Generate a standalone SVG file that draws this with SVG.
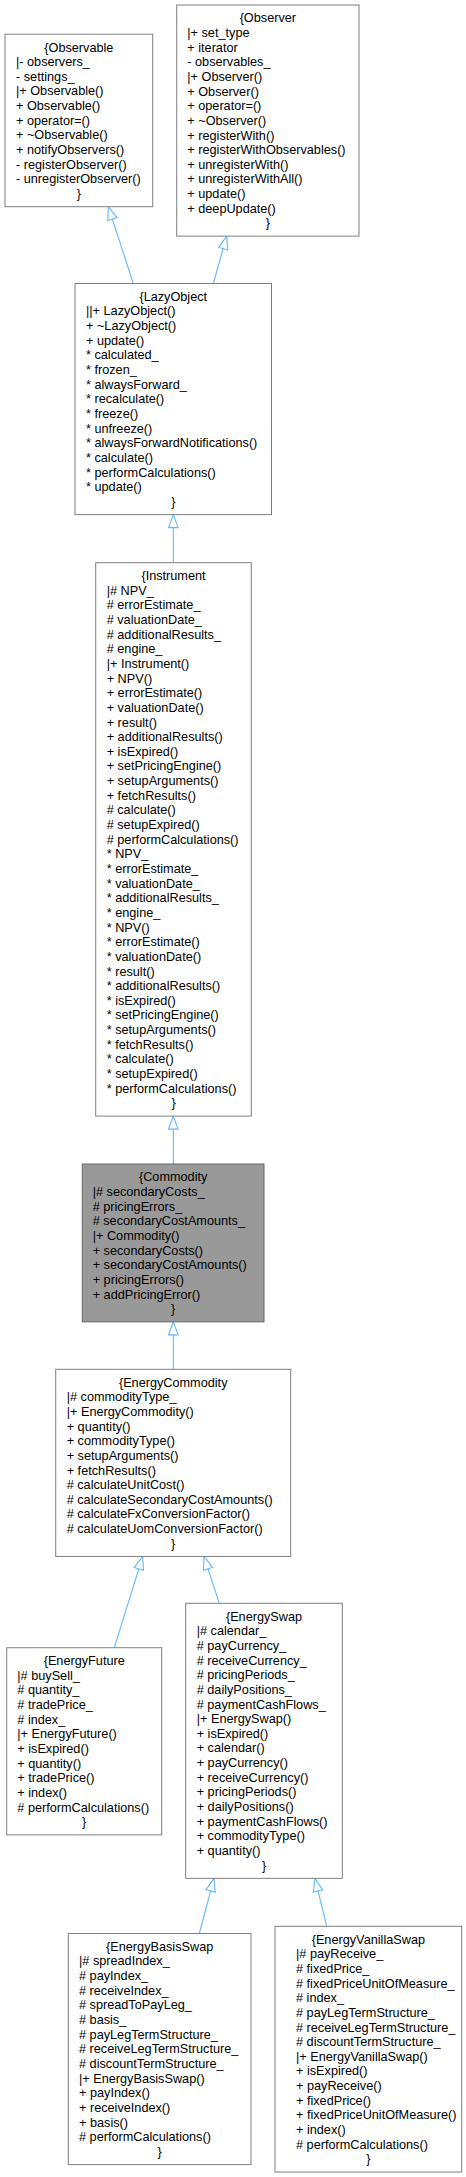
<svg xmlns="http://www.w3.org/2000/svg" width="466" height="2177" viewBox="0 0 466 2177">
<style>
.bg{fill:#fff}
.box{fill:#fff;stroke:#7f7f7f;stroke-width:1}
.cur{fill:#999999;stroke:#666666;stroke-width:1}
text{font-family:"Liberation Sans",Arial,sans-serif;font-size:12.7px;fill:#000}
.t{text-anchor:middle}
.e{fill:none;stroke:#63b8ff;stroke-width:1.1;marker-end:url(#ah)}
</style>
<defs>
<marker id="ah" markerUnits="userSpaceOnUse" markerWidth="16" markerHeight="12" viewBox="0 0 16 12" refX="14" refY="6" orient="auto">
<path d="M1,1.2 L14,6 L1,10.8 z" fill="#fff" stroke="#63b8ff" stroke-width="1.1"/>
</marker>
</defs>
<rect class="bg" x="0" y="0" width="466" height="2177"/>

<g id="connectors">
<path class="e" d="M133.3,283.5 L108.3,206.7"/>
<path class="e" d="M213.3,283.5 L226.7,236.1"/>
<path class="e" d="M173.3,562.7 L173.3,514.6"/>
<path class="e" d="M173.3,1164 L173.3,1116.1"/>
<path class="e" d="M173.3,1369.3 L173.3,1321.85"/>
<path class="e" d="M114.3,1647.7 L142.7,1556.45"/>
<path class="e" d="M219.3,1603.3 L204,1556.45"/>
<path class="e" d="M199.3,1933.5 L214,1878.35"/>
<path class="e" d="M326.7,1926.3 L315,1878.35"/>
</g>

<g id="Observable">
<rect class="box" x="5" y="34.2" width="147.7" height="172.5"/>
<text class="t" x="78.85" y="51.5">{Observable</text>
<text x="16" y="51.5"><tspan x="16" dy="14.65">|- observers_</tspan><tspan x="16" dy="14.65">- settings_</tspan><tspan x="16" dy="14.65">|+ Observable()</tspan><tspan x="16" dy="14.65">+ Observable()</tspan><tspan x="16" dy="14.65">+ operator=()</tspan><tspan x="16" dy="14.65">+ ~Observable()</tspan><tspan x="16" dy="14.65">+ notifyObservers()</tspan><tspan x="16" dy="14.65">- registerObserver()</tspan><tspan x="16" dy="14.65">- unregisterObserver()</tspan></text>
<text class="t" x="78.85" y="198">}</text>
</g>

<g id="Observer">
<rect class="box" x="176.7" y="5" width="182.3" height="231.1"/>
<text class="t" x="267.85" y="22.3">{Observer</text>
<text x="187.3" y="22.3"><tspan x="187.3" dy="14.65">|+ set_type</tspan><tspan x="187.3" dy="14.65">+ iterator</tspan><tspan x="187.3" dy="14.65">- observables_</tspan><tspan x="187.3" dy="14.65">|+ Observer()</tspan><tspan x="187.3" dy="14.65">+ Observer()</tspan><tspan x="187.3" dy="14.65">+ operator=()</tspan><tspan x="187.3" dy="14.65">+ ~Observer()</tspan><tspan x="187.3" dy="14.65">+ registerWith()</tspan><tspan x="187.3" dy="14.65">+ registerWithObservables()</tspan><tspan x="187.3" dy="14.65">+ unregisterWith()</tspan><tspan x="187.3" dy="14.65">+ unregisterWithAll()</tspan><tspan x="187.3" dy="14.65">+ update()</tspan><tspan x="187.3" dy="14.65">+ deepUpdate()</tspan></text>
<text class="t" x="267.85" y="227.4">}</text>
</g>

<g id="LazyObject">
<rect class="box" x="75" y="283.5" width="196.5" height="231.1"/>
<text class="t" x="173.25" y="300.8">{LazyObject</text>
<text x="86" y="300.8"><tspan x="86" dy="14.65">||+ LazyObject()</tspan><tspan x="86" dy="14.65">+ ~LazyObject()</tspan><tspan x="86" dy="14.65">+ update()</tspan><tspan x="86" dy="14.65">* calculated_</tspan><tspan x="86" dy="14.65">* frozen_</tspan><tspan x="86" dy="14.65">* alwaysForward_</tspan><tspan x="86" dy="14.65">* recalculate()</tspan><tspan x="86" dy="14.65">* freeze()</tspan><tspan x="86" dy="14.65">* unfreeze()</tspan><tspan x="86" dy="14.65">* alwaysForwardNotifications()</tspan><tspan x="86" dy="14.65">* calculate()</tspan><tspan x="86" dy="14.65">* performCalculations()</tspan><tspan x="86" dy="14.65">* update()</tspan></text>
<text class="t" x="173.25" y="505.9">}</text>
</g>

<g id="Instrument">
<rect class="box" x="95.7" y="562.7" width="155.6" height="553.4"/>
<text class="t" x="173.5" y="580">{Instrument</text>
<text x="106.7" y="580"><tspan x="106.7" dy="14.65">|# NPV_</tspan><tspan x="106.7" dy="14.65"># errorEstimate_</tspan><tspan x="106.7" dy="14.65"># valuationDate_</tspan><tspan x="106.7" dy="14.65"># additionalResults_</tspan><tspan x="106.7" dy="14.65"># engine_</tspan><tspan x="106.7" dy="14.65">|+ Instrument()</tspan><tspan x="106.7" dy="14.65">+ NPV()</tspan><tspan x="106.7" dy="14.65">+ errorEstimate()</tspan><tspan x="106.7" dy="14.65">+ valuationDate()</tspan><tspan x="106.7" dy="14.65">+ result()</tspan><tspan x="106.7" dy="14.65">+ additionalResults()</tspan><tspan x="106.7" dy="14.65">+ isExpired()</tspan><tspan x="106.7" dy="14.65">+ setPricingEngine()</tspan><tspan x="106.7" dy="14.65">+ setupArguments()</tspan><tspan x="106.7" dy="14.65">+ fetchResults()</tspan><tspan x="106.7" dy="14.65"># calculate()</tspan><tspan x="106.7" dy="14.65"># setupExpired()</tspan><tspan x="106.7" dy="14.65"># performCalculations()</tspan><tspan x="106.7" dy="14.65">* NPV_</tspan><tspan x="106.7" dy="14.65">* errorEstimate_</tspan><tspan x="106.7" dy="14.65">* valuationDate_</tspan><tspan x="106.7" dy="14.65">* additionalResults_</tspan><tspan x="106.7" dy="14.65">* engine_</tspan><tspan x="106.7" dy="14.65">* NPV()</tspan><tspan x="106.7" dy="14.65">* errorEstimate()</tspan><tspan x="106.7" dy="14.65">* valuationDate()</tspan><tspan x="106.7" dy="14.65">* result()</tspan><tspan x="106.7" dy="14.65">* additionalResults()</tspan><tspan x="106.7" dy="14.65">* isExpired()</tspan><tspan x="106.7" dy="14.65">* setPricingEngine()</tspan><tspan x="106.7" dy="14.65">* setupArguments()</tspan><tspan x="106.7" dy="14.65">* fetchResults()</tspan><tspan x="106.7" dy="14.65">* calculate()</tspan><tspan x="106.7" dy="14.65">* setupExpired()</tspan><tspan x="106.7" dy="14.65">* performCalculations()</tspan></text>
<text class="t" x="173.5" y="1107.4">}</text>
</g>

<g id="Commodity">
<rect class="cur" x="82.3" y="1164" width="181.7" height="157.85"/>
<text class="t" x="173.15" y="1181.3">{Commodity</text>
<text x="92.7" y="1181.3"><tspan x="92.7" dy="14.65">|# secondaryCosts_</tspan><tspan x="92.7" dy="14.65"># pricingErrors_</tspan><tspan x="92.7" dy="14.65"># secondaryCostAmounts_</tspan><tspan x="92.7" dy="14.65">|+ Commodity()</tspan><tspan x="92.7" dy="14.65">+ secondaryCosts()</tspan><tspan x="92.7" dy="14.65">+ secondaryCostAmounts()</tspan><tspan x="92.7" dy="14.65">+ pricingErrors()</tspan><tspan x="92.7" dy="14.65">+ addPricingError()</tspan></text>
<text class="t" x="173.15" y="1313.2">}</text>
</g>

<g id="EnergyCommodity">
<rect class="box" x="55.7" y="1369.3" width="235" height="187.15"/>
<text class="t" x="173.2" y="1386.6">{EnergyCommodity</text>
<text x="66.7" y="1386.6"><tspan x="66.7" dy="14.65">|# commodityType_</tspan><tspan x="66.7" dy="14.65">|+ EnergyCommodity()</tspan><tspan x="66.7" dy="14.65">+ quantity()</tspan><tspan x="66.7" dy="14.65">+ commodityType()</tspan><tspan x="66.7" dy="14.65">+ setupArguments()</tspan><tspan x="66.7" dy="14.65">+ fetchResults()</tspan><tspan x="66.7" dy="14.65"># calculateUnitCost()</tspan><tspan x="66.7" dy="14.65"># calculateSecondaryCostAmounts()</tspan><tspan x="66.7" dy="14.65"># calculateFxConversionFactor()</tspan><tspan x="66.7" dy="14.65"># calculateUomConversionFactor()</tspan></text>
<text class="t" x="173.2" y="1547.8">}</text>
</g>

<g id="EnergyFuture">
<rect class="box" x="6.7" y="1647.7" width="155" height="187.15"/>
<text class="t" x="84.2" y="1665">{EnergyFuture</text>
<text x="17.3" y="1665"><tspan x="17.3" dy="14.65">|# buySell_</tspan><tspan x="17.3" dy="14.65"># quantity_</tspan><tspan x="17.3" dy="14.65"># tradePrice_</tspan><tspan x="17.3" dy="14.65"># index_</tspan><tspan x="17.3" dy="14.65">|+ EnergyFuture()</tspan><tspan x="17.3" dy="14.65">+ isExpired()</tspan><tspan x="17.3" dy="14.65">+ quantity()</tspan><tspan x="17.3" dy="14.65">+ tradePrice()</tspan><tspan x="17.3" dy="14.65">+ index()</tspan><tspan x="17.3" dy="14.65"># performCalculations()</tspan></text>
<text class="t" x="84.2" y="1826.2">}</text>
</g>

<g id="EnergySwap">
<rect class="box" x="185.7" y="1603.3" width="156.6" height="275.05"/>
<text class="t" x="264" y="1620.6">{EnergySwap</text>
<text x="196.7" y="1620.6"><tspan x="196.7" dy="14.65">|# calendar_</tspan><tspan x="196.7" dy="14.65"># payCurrency_</tspan><tspan x="196.7" dy="14.65"># receiveCurrency_</tspan><tspan x="196.7" dy="14.65"># pricingPeriods_</tspan><tspan x="196.7" dy="14.65"># dailyPositions_</tspan><tspan x="196.7" dy="14.65"># paymentCashFlows_</tspan><tspan x="196.7" dy="14.65">|+ EnergySwap()</tspan><tspan x="196.7" dy="14.65">+ isExpired()</tspan><tspan x="196.7" dy="14.65">+ calendar()</tspan><tspan x="196.7" dy="14.65">+ payCurrency()</tspan><tspan x="196.7" dy="14.65">+ receiveCurrency()</tspan><tspan x="196.7" dy="14.65">+ pricingPeriods()</tspan><tspan x="196.7" dy="14.65">+ dailyPositions()</tspan><tspan x="196.7" dy="14.65">+ paymentCashFlows()</tspan><tspan x="196.7" dy="14.65">+ commodityType()</tspan><tspan x="196.7" dy="14.65">+ quantity()</tspan></text>
<text class="t" x="264" y="1869.65">}</text>
</g>

<g id="EnergyBasisSwap">
<rect class="box" x="68.3" y="1933.5" width="182.7" height="231.1"/>
<text class="t" x="159.65" y="1950.8">{EnergyBasisSwap</text>
<text x="79" y="1950.8"><tspan x="79" dy="14.65">|# spreadIndex_</tspan><tspan x="79" dy="14.65"># payIndex_</tspan><tspan x="79" dy="14.65"># receiveIndex_</tspan><tspan x="79" dy="14.65"># spreadToPayLeg_</tspan><tspan x="79" dy="14.65"># basis_</tspan><tspan x="79" dy="14.65"># payLegTermStructure_</tspan><tspan x="79" dy="14.65"># receiveLegTermStructure_</tspan><tspan x="79" dy="14.65"># discountTermStructure_</tspan><tspan x="79" dy="14.65">|+ EnergyBasisSwap()</tspan><tspan x="79" dy="14.65">+ payIndex()</tspan><tspan x="79" dy="14.65">+ receiveIndex()</tspan><tspan x="79" dy="14.65">+ basis()</tspan><tspan x="79" dy="14.65"># performCalculations()</tspan></text>
<text class="t" x="159.65" y="2155.9">}</text>
</g>

<g id="EnergyVanillaSwap">
<rect class="box" x="275" y="1926.3" width="186.7" height="245.75"/>
<text class="t" x="368.35" y="1943.6">{EnergyVanillaSwap</text>
<text x="296" y="1943.6"><tspan x="296" dy="14.65">|# payReceive_</tspan><tspan x="296" dy="14.65"># fixedPrice_</tspan><tspan x="296" dy="14.65"># fixedPriceUnitOfMeasure_</tspan><tspan x="296" dy="14.65"># index_</tspan><tspan x="296" dy="14.65"># payLegTermStructure_</tspan><tspan x="296" dy="14.65"># receiveLegTermStructure_</tspan><tspan x="296" dy="14.65"># discountTermStructure_</tspan><tspan x="296" dy="14.65">|+ EnergyVanillaSwap()</tspan><tspan x="296" dy="14.65">+ isExpired()</tspan><tspan x="296" dy="14.65">+ payReceive()</tspan><tspan x="296" dy="14.65">+ fixedPrice()</tspan><tspan x="296" dy="14.65">+ fixedPriceUnitOfMeasure()</tspan><tspan x="296" dy="14.65">+ index()</tspan><tspan x="296" dy="14.65"># performCalculations()</tspan></text>
<text class="t" x="368.35" y="2163.35">}</text>
</g>
</svg>
